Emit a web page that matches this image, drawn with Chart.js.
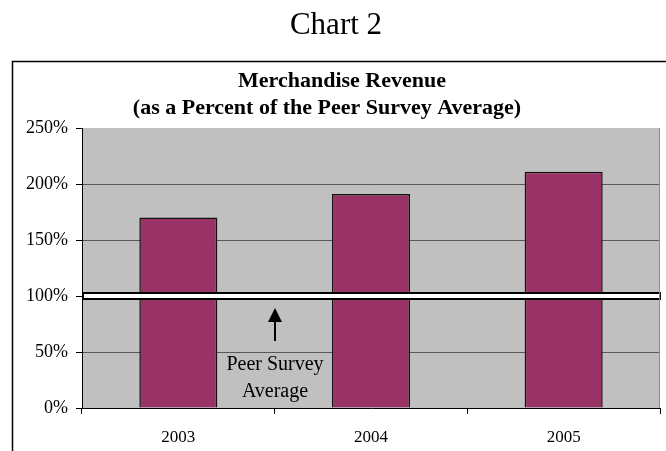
<!DOCTYPE html>
<html>
<head>
<meta charset="utf-8">
<title>Chart 2</title>
<script src="https://cdn.jsdelivr.net/npm/chart.js@4/dist/chart.umd.min.js"></script>
<style>
  html, body { margin: 0; padding: 0; background: #ffffff; }
  canvas { display: block; }
</style>
</head>
<body>
<canvas id="chart" width="666" height="451"></canvas>
<script>
// Merchandise revenue as a percent of the peer survey average
const years = ['2003', '2004', '2005'];
const revenuePct = [170, 191, 211];
const peerAverage = 100;
const yTickValues = [0, 50, 100, 150, 200, 250];

const pageTitle = 'Chart 2';
const chartTitle = ['Merchandise Revenue', '(as a Percent of the Peer Survey Average)'];
const noteLines = ['Peer Survey', 'Average'];

const SERIF = "'Liberation Serif', 'DejaVu Serif', serif";

// Grey plot background, outer frame and headings
const backdrop = {
  id: 'backdrop',
  beforeDraw(chart) {
    const { ctx, chartArea: a, width, height } = chart;
    ctx.save();
    ctx.fillStyle = '#ffffff';
    ctx.fillRect(0, 0, width, height);
    ctx.fillStyle = '#c0c0c0';
    ctx.fillRect(a.left, a.top, a.right - a.left, a.bottom - a.top);

    // frame around the chart
    ctx.strokeStyle = '#000000';
    ctx.lineWidth = 1.5;
    ctx.beginPath();
    ctx.moveTo(12.5, height);
    ctx.lineTo(12.5, 61.5);
    ctx.lineTo(width, 61.5);
    ctx.stroke();

    ctx.fillStyle = '#000000';
    ctx.textAlign = 'center';
    ctx.textBaseline = 'alphabetic';
    ctx.font = '31px ' + SERIF;
    ctx.fillText(pageTitle, 336, 34);
    ctx.font = 'bold 22px ' + SERIF;
    ctx.fillText(chartTitle[0], 342, 87);
    ctx.fillText(chartTitle[1], 327, 114);
    ctx.restore();
  },
  afterDraw(chart) {
    const { ctx, chartArea: a } = chart;
    ctx.save();
    ctx.strokeStyle = '#8c8c8c';
    ctx.lineWidth = 1;
    ctx.beginPath();
    ctx.moveTo(a.right - 0.5, a.top);
    ctx.lineTo(a.right - 0.5, a.bottom);
    ctx.stroke();
    ctx.restore();
  }
};

// Peer survey average band with its arrow and note
const peerBand = {
  id: 'peerBand',
  afterDatasetsDraw(chart) {
    const { ctx, chartArea: a, scales: { x, y } } = chart;
    const yp = Math.round(y.getPixelForValue(peerAverage));
    ctx.save();
    ctx.fillStyle = '#ffffff';
    ctx.strokeStyle = '#000000';
    ctx.lineWidth = 2;
    ctx.fillRect(a.left + 1, yp - 3, a.right - a.left - 1, 6);
    ctx.strokeRect(a.left + 1, yp - 3, a.right - a.left - 1, 6);

    // arrow pointing up at the band, between the first two bars
    const xm = Math.round((x.getPixelForValue(0) + x.getPixelForValue(1)) / 2);
    const tip = yp + 12;
    ctx.fillStyle = '#000000';
    ctx.beginPath();
    ctx.moveTo(xm, tip);
    ctx.lineTo(xm - 7, tip + 14);
    ctx.lineTo(xm + 7, tip + 14);
    ctx.closePath();
    ctx.fill();
    ctx.lineWidth = 2;
    ctx.beginPath();
    ctx.moveTo(xm, tip + 12);
    ctx.lineTo(xm, tip + 33);
    ctx.stroke();

    ctx.font = '20px ' + SERIF;
    ctx.textAlign = 'center';
    ctx.textBaseline = 'middle';
    ctx.fillText(noteLines[0], xm, yp + 69);
    ctx.fillText(noteLines[1], xm, yp + 96);
    ctx.restore();
  }
};

new Chart(document.getElementById('chart'), {
  type: 'bar',
  data: {
    labels: years,
    datasets: [{
      label: 'Merchandise Revenue',
      data: revenuePct,
      backgroundColor: '#993366',
      borderColor: '#111111',
      borderWidth: 1.5,
      categoryPercentage: 1,
      barPercentage: 0.405
    }]
  },
  options: {
    responsive: false,
    animation: false,
    devicePixelRatio: 1,
    layout: { padding: { left: 12, top: 128, right: 6, bottom: 0 } },
    plugins: {
      legend: { display: false },
      title: { display: false },
      tooltip: { enabled: false }
    },
    scales: {
      x: {
        offset: true,
        afterFit(scale) { scale.height = 43; },
        grid: {
          display: true,
          drawOnChartArea: false,
          tickLength: 6,
          tickColor: '#000000',
          offset: true
        },
        border: { color: '#000000', width: 1 },
        ticks: {
          color: '#000000',
          font: { family: SERIF, size: 17 },
          padding: 13
        }
      },
      y: {
        min: 0,
        max: 250,
        afterFit(scale) { scale.width = 70; },
        afterBuildTicks(scale) {
          scale.ticks = yTickValues.map(v => ({ value: v }));
        },
        grid: {
          color: ctx => (ctx.tick && (ctx.tick.value === 250 || ctx.tick.value === 0)) ? 'rgba(0,0,0,0)' : '#585858',
          tickColor: '#000000',
          tickLength: 6,
          lineWidth: 1
        },
        border: { color: '#000000', width: 1 },
        ticks: {
          color: '#000000',
          font: { family: SERIF, size: 18 },
          padding: 8,
          callback: v => v + '%'
        }
      }
    }
  },
  plugins: [backdrop, peerBand]
});
</script>
</body>
</html>
